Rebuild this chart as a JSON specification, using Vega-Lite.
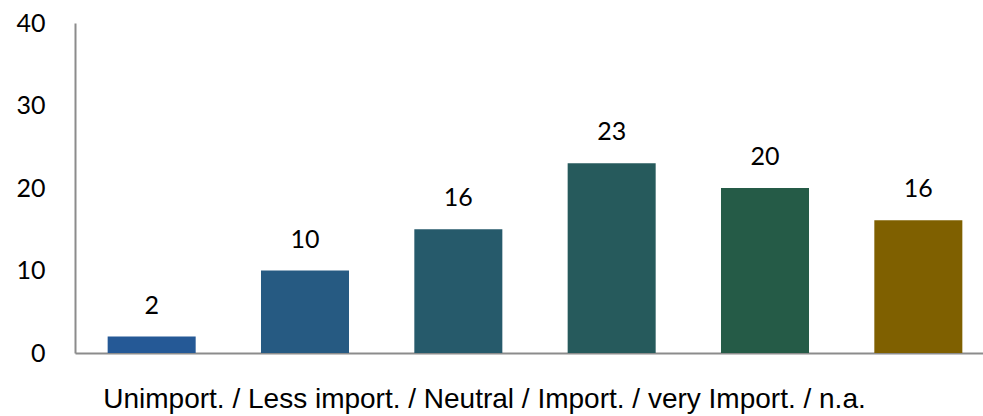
{
  "$schema": "https://vega.github.io/schema/vega-lite/v6.json",
  "autosize": "none",
  "padding": {"left": 75, "top": 23, "right": 0, "bottom": 63},
  "width": 920,
  "height": 330,
  "background": "white",
  "config": {"view": {"stroke": null}},
  "data": {"values": [
    {"cat": "Unimport.", "value": 2, "label": "2", "color": "#255996"},
    {"cat": "Less import.", "value": 10, "label": "10", "color": "#265A82"},
    {"cat": "Neutral", "value": 15, "label": "16", "color": "#265A6B"},
    {"cat": "Import.", "value": 23, "label": "23", "color": "#265A5C"},
    {"cat": "very Import.", "value": 20, "label": "20", "color": "#255B47"},
    {"cat": "n.a.", "value": 16.1, "label": "16", "color": "#7F6000"}
  ]},
  "encoding": {
    "x": {
      "field": "cat", "type": "nominal", "sort": null,
      "scale": {"paddingInner": 0.426, "paddingOuter": 0.213},
      "axis": {
        "title": "Unimport. / Less import. / Neutral / Import. / very Import. / n.a.",
        "labels": false, "ticks": false, "domainColor": "#8C8C8C", "domainWidth": 2,
        "titleFont": "Liberation Sans", "titleFontSize": 28, "titleFontWeight": "normal",
        "titleColor": "#000000", "titlePadding": 32, "titleX": 409, "titleAnchor": "middle", "titleAlign": "center"
      }
    },
    "y": {
      "field": "value", "type": "quantitative",
      "scale": {"domain": [0, 40], "nice": false},
      "axis": {
        "title": null, "values": [0, 10, 20, 30, 40], "ticks": false, "grid": false,
        "domainColor": "#8C8C8C", "domainWidth": 2,
        "labelFont": "Lato", "labelFontSize": 25, "labelColor": "#000000", "labelPadding": 30
      }
    }
  },
  "layer": [
    {"mark": {"type": "bar"}, "encoding": {"color": {"field": "color", "type": "nominal", "scale": null}}},
    {"mark": {"type": "text", "dy": -31, "baseline": "middle", "font": "Lato", "fontSize": 25, "color": "#000000"},
     "encoding": {"text": {"field": "label"}}}
  ]
}
